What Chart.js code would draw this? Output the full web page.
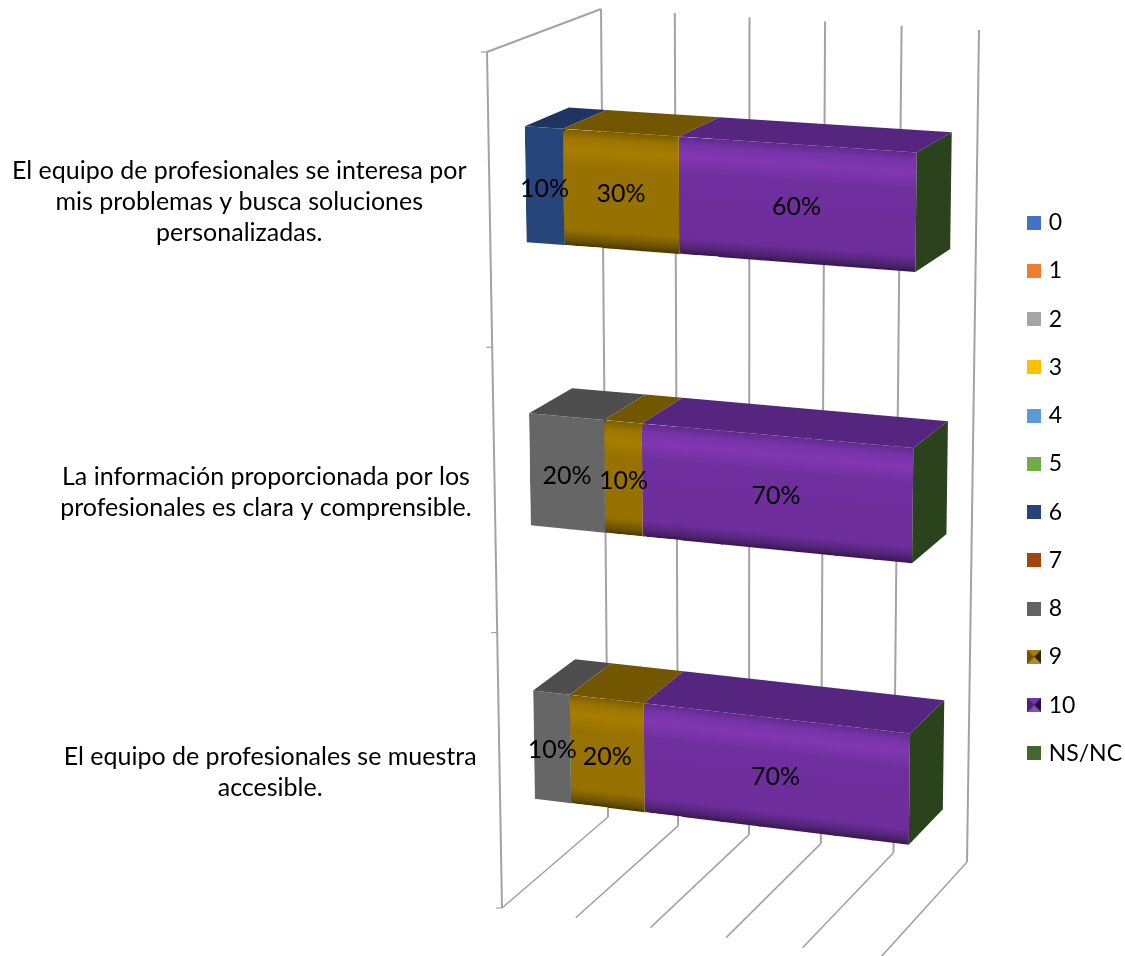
<!DOCTYPE html>
<html>
<head>
<meta charset="utf-8">
<title>Valoración del equipo de profesionales</title>
<script src="https://cdn.jsdelivr.net/npm/chart.js@4"></script>
<style>
    html, body { margin: 0; padding: 0; background: #fff; }
    #wrap { width: 1125px; height: 956px; }
</style>
</head>
<body>
<div id="wrap"><canvas id="chart" width="1125" height="956"></canvas></div>
<script>
const categories = [
    ['El equipo de profesionales se interesa por', 'mis problemas y busca soluciones', 'personalizadas.'],
    ['La información proporcionada por los', 'profesionales es clara y comprensible.'],
    ['El equipo de profesionales se muestra', 'accesible.']
];
const seriesNames = ['0', '1', '2', '3', '4', '5', '6', '7', '8', '9', '10', 'NS/NC'];

const values0 = [0, 0, 0];
const values1 = [0, 0, 0];
const values2 = [0, 0, 0];
const values3 = [0, 0, 0];
const values4 = [0, 0, 0];
const values5 = [0, 0, 0];
const values6 = [10, 0, 0];
const values7 = [0, 0, 0];
const values8 = [0, 20, 10];
const values9 = [30, 10, 20];
const values10 = [60, 70, 70];
const valuesNsNc = [0, 0, 0];
const seriesValues = [values0, values1, values2, values3, values4, values5, values6, values7, values8, values9, values10, valuesNsNc];

const legendColors = ['#4472C4', '#ED7D31', '#A5A5A5', '#FFC000', '#5B9BD5', '#70AD47', '#264478', '#9E480E', '#636363', '#997300', '#7030A0', '#43682B'];

// front / top / side colours of the prism for each series, gradient only on 9 and 10
const faceColors = legendColors.slice();
faceColors[6] = '#26457A';
faceColors[8] = '#666666';
const topColors = { 6: '#1D3560', 8: '#4E4E4E', 9: '#735600', 10: '#552580', 11: '#2A431C' };
const frontStops = {
    9: [[0, '#7C5D00'], [0.07, '#9A7400'], [0.17, '#A87E00'], [0.32, '#987200'], [0.86, '#967100'], [0.95, '#6F5400'], [1, '#4A3800']],
    10: [[0, '#5F2A8C'], [0.07, '#7733A8'], [0.17, '#8137B0'], [0.32, '#6F2F9E'], [0.86, '#6D2E9B'], [0.95, '#512474'], [1, '#38184F']]
};

// walls of the 3D box, w = 0 is the front plane and w = 1 the back plane
const boxFront = { tl: [487, 52], tr: [889, 77], bl: [502, 908], br: [880, 958] };
const boxBack = { tl: [601, 9], tr: [979, 30], bl: [608, 817], br: [967, 862] };
const barFrontW = 0.32;
const barBackW = 0.71;
// perspective makes the rows and columns slightly uneven
const rowWarp = 0.052;
const columnWarp = -0.03;
const gridColor = '#A3A3A3';
const textFont = '25px Lato';

// bars are queued while Chart.js walks the datasets and painted left to right afterwards
let activeChart = null;
let activeDataset = 0;
let paintQueue = [];

function project(chart, px, py, w) {
    const area = chart.chartArea;
    const a = (px - area.left) / (area.right - area.left);
    const b = (py - area.top) / (area.bottom - area.top);
    const u = a + columnWarp * a * (1 - a);
    const v = b + rowWarp * b * (1 - b);
    const mix = (box, i) => {
        const t = box.tl[i] + (box.tr[i] - box.tl[i]) * u;
        const d = box.bl[i] + (box.br[i] - box.bl[i]) * u;
        return t + (d - t) * v;
    };
    return {
        x: mix(boxFront, 0) + (mix(boxBack, 0) - mix(boxFront, 0)) * w,
        y: mix(boxFront, 1) + (mix(boxBack, 1) - mix(boxFront, 1)) * w
    };
}

function tracePoly(ctx, pts) {
    ctx.beginPath();
    pts.forEach((p, i) => i ? ctx.lineTo(p.x, p.y) : ctx.moveTo(p.x, p.y));
    ctx.closePath();
}

function fillPoly(ctx, pts, color) {
    tracePoly(ctx, pts);
    ctx.fillStyle = color;
    ctx.fill();
}

function lerpPoint(a, b, t) {
    return { x: a.x + (b.x - a.x) * t, y: a.y + (b.y - a.y) * t };
}

// front face is cut into strips, each filled in a unit square mapped onto its sheared
// quad, so the gradient bands follow the slope of the bar. Strips overlap to hide seams
// and the whole face is clipped so the overlaps cannot stick out of the edges.
function fillFront(ctx, tl, tr, bl, br, index) {
    const stops = frontStops[index];
    const width = Math.hypot(tr.x - tl.x, tr.y - tl.y);
    const strips = Math.ceil(width / 40);
    // a darker sliver behind the rounded corner of the next segment
    if (index !== 10) {
        fillPoly(ctx, [tr, { x: tr.x + 3, y: tr.y }, { x: br.x + 3, y: br.y }, br], topColors[index]);
    }
    ctx.save();
    tracePoly(ctx, [tl, tr, br, bl]);
    ctx.clip();
    for (let s = 0; s < strips; s++) {
        const a = lerpPoint(tl, tr, s / strips);
        const b = lerpPoint(tl, tr, (s + 1) / strips);
        const c = lerpPoint(bl, br, s / strips);
        const stripWidth = b.x - a.x;
        ctx.save();
        ctx.transform(b.x - a.x, b.y - a.y, c.x - a.x, c.y - a.y, a.x, a.y);
        if (s === 0 && stops) {
            // lets the previous segment show through the rounded corners
            const dx = 5 / stripWidth;
            const dy = 0.06;
            ctx.beginPath();
            ctx.moveTo(dx, 0);
            ctx.lineTo(1.2, 0);
            ctx.lineTo(1.2, 1);
            ctx.lineTo(dx, 1);
            ctx.quadraticCurveTo(0, 1, 0, 1 - dy);
            ctx.lineTo(0, dy);
            ctx.quadraticCurveTo(0, 0, dx, 0);
        } else {
            ctx.beginPath();
            ctx.rect(0, -0.1, s === strips - 1 ? 1.2 : 1 + 3 / stripWidth, 1.2);
        }
        if (stops) {
            const grad = ctx.createLinearGradient(0, 0, 0, 1);
            stops.forEach(st => grad.addColorStop(st[0], st[1]));
            ctx.fillStyle = grad;
        } else {
            ctx.fillStyle = faceColors[index];
        }
        ctx.fill();
        ctx.restore();
    }
    ctx.restore();
}

function paintBar(ctx, chart, index, props) {
    const top = props.y - props.height / 2;
    const bottom = props.y + props.height / 2;
    const tl = project(chart, props.base, top, barFrontW);
    const tr = project(chart, props.x, top, barFrontW);
    const bl = project(chart, props.base, bottom, barFrontW);
    const br = project(chart, props.x, bottom, barFrontW);
    const tlBack = project(chart, props.base, top, barBackW);
    const trBack = project(chart, props.x, top, barBackW);
    const brBack = project(chart, props.x, bottom, barBackW);
    if (index === seriesNames.length - 1) {
        // NS/NC is empty, so only its end cap shows
        fillPoly(ctx, [tr, trBack, brBack, br], topColors[11]);
        return;
    }
    fillPoly(ctx, [tl, tlBack, trBack, tr], topColors[index]);
    fillFront(ctx, tl, tr, bl, br, index);
}

// bars keep the geometry from the scales, only the painting goes through the box projection
Chart.BarElement.prototype.draw = function (ctx) {
    const props = this.getProps(['x', 'y', 'base', 'height'], true);
    const index = activeDataset;
    if (props.x === props.base && index !== seriesNames.length - 1) {
        return;
    }
    const chart = activeChart;
    paintQueue.push(() => paintBar(ctx, chart, index, props));
};

const boxWalls = {
    id: 'boxWalls',
    afterLayout(chart) {
        chart.legend.left += 10;
        chart.legend.right += 10;
        chart.legend.top += 10;
        chart.legend.bottom += 10;
    },
    beforeDatasetDraw(chart, args) {
        activeChart = chart;
        activeDataset = args.index;
    },
    beforeDatasetsDraw(chart) {
        const ctx = chart.ctx;
        const xs = chart.scales.x;
        const area = chart.chartArea;
        const line = (a, b) => {
            ctx.beginPath();
            ctx.moveTo(a.x, a.y);
            ctx.lineTo(b.x, b.y);
            ctx.stroke();
        };
        ctx.save();
        ctx.strokeStyle = gridColor;
        xs.ticks.forEach(t => {
            const px = xs.getPixelForValue(t.value);
            const floor = project(chart, px, area.bottom, 1);
            ctx.lineWidth = 2;
            line(project(chart, px, area.top, 1), floor);
            ctx.lineWidth = 1.6;
            line(floor, project(chart, px, area.bottom, 0));
        });
        // left wall and its category ticks
        const wallTop = project(chart, area.left, area.top, 0);
        ctx.lineWidth = 2;
        line(wallTop, project(chart, area.left, area.top, 1));
        line(wallTop, project(chart, area.left, area.bottom, 0));
        ctx.lineWidth = 1.2;
        for (let i = 0; i <= categories.length; i++) {
            const p = project(chart, area.left, area.top + (area.bottom - area.top) * i / categories.length, 0);
            line({ x: p.x - 6, y: p.y }, p);
        }
        ctx.restore();
    },
    afterDatasetsDraw(chart) {
        const ctx = chart.ctx;
        const ys = chart.scales.y;
        paintQueue.reverse().forEach(paint => paint());
        paintQueue = [];
        ctx.save();
        ctx.fillStyle = '#000';
        ctx.font = textFont;
        ctx.textBaseline = 'middle';
        ctx.textAlign = 'center';
        // segment labels
        seriesValues.forEach((vals, ds) => {
            chart.getDatasetMeta(ds).data.forEach((bar, i) => {
                if (!vals[i]) return;
                const p = project(chart, (bar.x + bar.base) / 2, bar.y, barFrontW);
                ctx.fillText(vals[i] + '%', p.x, p.y + 3);
            });
        });
        // category labels sit left of the wall, each block centred on itself
        categories.forEach((lines, i) => {
            const wall = project(chart, chart.chartArea.left, ys.getPixelForValue(i), 0);
            const blockWidth = Math.max(...lines.map(l => ctx.measureText(l).width));
            const cx = wall.x - 23 - blockWidth / 2;
            lines.forEach((l, n) => {
                ctx.fillText(l, cx, wall.y + 1 + (n - (lines.length - 1) / 2) * 31);
            });
        });
        ctx.restore();
    }
};

function makeSwatch(index) {
    const c = document.createElement('canvas');
    c.width = 14;
    c.height = 14;
    const g = c.getContext('2d');
    g.fillStyle = legendColors[index];
    g.fillRect(0, 0, 14, 14);
    if (index === 9 || index === 10) {
        // little pyramid marker used for the bevelled series
        const sides = index === 9
            ? ['#A87E00', '#2E2300', '#B08A30', '#6F5400']
            : ['#7733A8', '#24103A', '#8552AE', '#4D2370'];
        const tri = (x1, y1, x2, y2, color) => {
            g.beginPath();
            g.moveTo(x1, y1);
            g.lineTo(x2, y2);
            g.lineTo(7, 7);
            g.closePath();
            g.fillStyle = color;
            g.fill();
        };
        tri(0, 0, 14, 0, sides[0]);
        tri(14, 0, 14, 14, sides[1]);
        tri(14, 14, 0, 14, sides[2]);
        tri(0, 14, 0, 0, sides[3]);
    }
    return c;
}

new Chart(document.getElementById('chart'), {
    type: 'bar',
    data: {
        labels: categories,
        datasets: seriesNames.map((name, i) => ({
            label: name,
            data: seriesValues[i],
            backgroundColor: legendColors[i]
        }))
    },
    options: {
        indexAxis: 'y',
        responsive: false,
        animation: false,
        categoryPercentage: 1,
        barPercentage: 0.4,
        layout: { padding: { top: 0, right: 3, bottom: 0, left: 0 } },
        scales: {
            x: { stacked: true, min: 0, max: 100, display: false, ticks: { stepSize: 20 } },
            y: { stacked: true, display: false }
        },
        plugins: {
            tooltip: { enabled: false },
            legend: {
                position: 'right',
                labels: {
                    usePointStyle: true,
                    boxWidth: 6,
                    boxHeight: 6,
                    padding: 25.25,
                    color: '#000',
                    font: { family: 'Lato', size: 23 },
                    generateLabels: chart => chart.data.datasets.map((ds, i) => ({
                        text: ds.label,
                        datasetIndex: i,
                        pointStyle: makeSwatch(i),
                        fillStyle: ds.backgroundColor,
                        strokeStyle: 'transparent',
                        lineWidth: 0,
                        fontColor: '#000',
                        hidden: false
                    }))
                }
            }
        }
    },
    plugins: [boxWalls]
});
</script>
</body>
</html>
